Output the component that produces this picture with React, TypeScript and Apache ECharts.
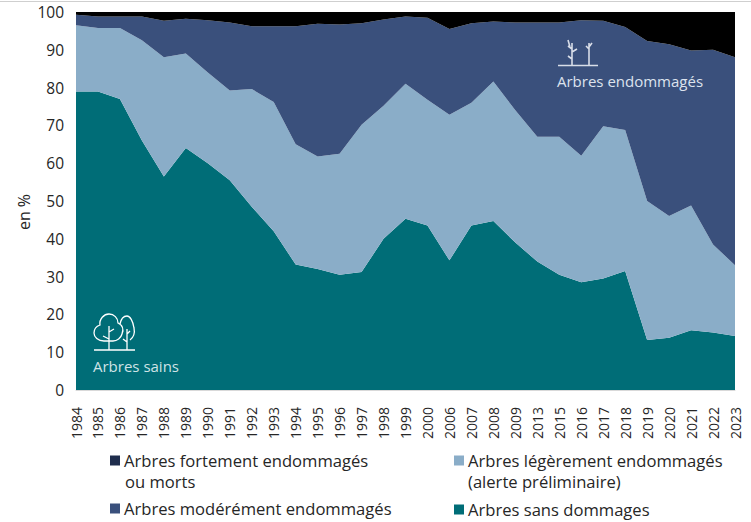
import React, { useEffect, useRef } from "react";
import * as echarts from "echarts";

const years = ["1984","1985","1986","1987","1988","1989","1990","1991","1992","1993","1994","1995","1996","1997","1998","1999","2000","2006","2007","2008","2009","2013","2015","2016","2017","2018","2019","2020","2021","2022","2023"];
const sains = [79,79,77,66,56.5,64,60,55.5,48.5,42,33.2,32,30.5,31.2,40,45.3,43.5,34.3,43.5,44.7,39,34,30.5,28.5,29.5,31.5,13.2,13.8,15.8,15.2,14.3];
const legers = [17.5,16.8,18.8,26.5,31.5,25,24,23.7,31.1,34.2,31.8,29.8,32,39,35.2,35.7,33.3,38.5,32.5,36.9,35,33,36.5,33.5,40.3,37.3,36.8,32.2,33,23.3,18.7];
const moderes = [2.8,3,3,6.3,9.7,9.2,13.8,18,16.6,20,31.2,35.1,34.2,26.8,22.8,17.8,21.7,22.7,21,15.9,23.2,30.2,30.2,35.8,27.9,27.2,42.3,45.5,41,51.5,55];
const forts = [0.7,1.2,1.2,1.2,2.3,1.8,2.2,2.8,3.8,3.8,3.8,3.1,3.3,3,2,1.2,1.5,4.5,3,2.5,2.8,2.8,2.8,2.2,2.3,4,7.7,8.5,10.2,10,12];

const FONT = "'Open Sans', 'Noto Sans', sans-serif";
const TEAL = "#006d77";
const LIGHT = "#8aadc8";
const MID = "#3a507c";
const BLACK = "#000000";
const DARK_KEY = "#1f2d4d";
const TEXT = "#262626";

const N_FORT = "Arbres fortement endommagés ou morts";
const N_MOD = "Arbres modérément endommagés";
const N_LEG = "Arbres légèrement endommagés (alerte préliminaire)";
const N_SAIN = "Arbres sans dommages";

const healthyD = "M10 28 C4 28 0 24 0 20 C0 16 3 13 6 12 C5 6 10 1 15 1 C20 1 24 5 24 10 C28 12 30 16 28 21 C27 25 23 28 19 28 Z M15 37 L15 13 M15 19 L20 16 M15 26 L9 23 M33 37 L33 16 M33 21 L36 18 M33 29 L29 26 M36 27 C40 24 41 20 40 15 C39 8 36 3 33 3 C30 3 27 6 26 11 M0 37 L41 37";
const deadD = "M14 26 L14 4 M14 10 L10 7 M10 1 L12 8 M14 13 L19 10 M14 20 L10 17 M31 26 L31 4 M31 10 L28 7 M31 8 L34 4 M0 26.5 L40 26.5";
echarts.graphic.registerShape("healthyTrees", echarts.graphic.extendPath(healthyD, {}) as any);
echarts.graphic.registerShape("deadTrees", echarts.graphic.extendPath(deadD, {}) as any);

const legendAt = (name: string, label: string, color: string, left: number, top: number) => ({
  left, top, orient: "horizontal", itemWidth: 10, itemHeight: 10, itemGap: 0, padding: 0,
  icon: "rect", selectedMode: false,
  formatter: () => label,
  textStyle: { fontFamily: FONT, fontSize: 16.6, lineHeight: 16, color: TEXT, padding: [0, 0, 0, -1] },
  data: [{ name, itemStyle: { color } }],
});

const area = (name: string, data: number[], color: string) => ({
  name, type: "line", stack: "total", data, symbol: "none", showSymbol: false,
  lineStyle: { width: 0 }, itemStyle: { color }, areaStyle: { color, opacity: 1 },
});

export default function App() {
  const ref = useRef<HTMLDivElement>(null);
  useEffect(() => {
    const chart = echarts.init(ref.current!, undefined, { renderer: "svg" });
    chart.setOption({
      animation: false,
      backgroundColor: "#ffffff",
      grid: { left: 76, right: 16, top: 12, bottom: 132 },
      xAxis: {
        type: "category", data: years, boundaryGap: false,
        axisTick: { show: false },
        axisLine: { show: true, lineStyle: { color: "#d9d9d9", width: 1 } },
        axisLabel: { rotate: 90, interval: 0, fontFamily: FONT, fontSize: 14, color: TEXT, margin: 17, padding: [0, 0, 5, 0] },
      },
      yAxis: {
        type: "value", min: 0, max: 100, interval: 10,
        name: "en %", nameLocation: "middle", nameGap: 44, nameMoveOverlap: false,
        nameTextStyle: { fontFamily: FONT, fontSize: 16, color: TEXT, padding: [0, 22, 0, 0] },
        axisTick: { show: false }, axisLine: { show: false }, splitLine: { show: false },
        axisLabel: { fontFamily: FONT, fontSize: 15.5, color: TEXT, margin: 12 },
      },
      legend: [
        legendAt(N_FORT, "Arbres fortement endommagés", DARK_KEY, 110, 452),
        legendAt(N_MOD, "Arbres modérément endommagés", MID, 110, 500),
        legendAt(N_LEG, "Arbres légèrement endommagés", LIGHT, 454, 452),
        legendAt(N_SAIN, "Arbres sans dommages", TEAL, 454, 501),
      ],
      series: [
        area(N_SAIN, sains, TEAL),
        area(N_LEG, legers, LIGHT),
        area(N_MOD, moderes, MID),
        area(N_FORT, forts, BLACK),
      ],
      graphic: [
        { type: "rect", z: 10, shape: { x: 0, y: 1, width: 751, height: 1 }, style: { fill: "#cfcfcf" }, silent: true },
        { type: "text", z: 10, left: 125, top: 473, style: { text: "ou morts", font: `16.6px ${FONT}`, lineHeight: 16, fill: TEXT } },
        { type: "text", z: 10, left: 468, top: 473, style: { text: "(alerte préliminaire)", font: `16.6px ${FONT}`, lineHeight: 16, fill: TEXT } },
        { type: "text", z: 10, left: 93, top: 358, style: { text: "Arbres sains", font: `15px ${FONT}`, fill: "#cfe3e6" } },
        { type: "text", z: 10, left: 557, top: 73, style: { text: "Arbres endommagés", font: `15px ${FONT}`, fill: "#dde3ee" } },
        { type: "healthyTrees", z: 10, x: 94, y: 313, style: { fill: "none", stroke: "#ffffff", lineWidth: 1.3 } },
        { type: "deadTrees", z: 10, x: 558, y: 39, style: { fill: "none", stroke: "#d8dde8", lineWidth: 1.6 } },
      ],
    });
    return () => chart.dispose();
  }, []);
  return <div ref={ref} style={{ width: 751, height: 522, position: "absolute", left: 0, top: 0 }} />;
}
